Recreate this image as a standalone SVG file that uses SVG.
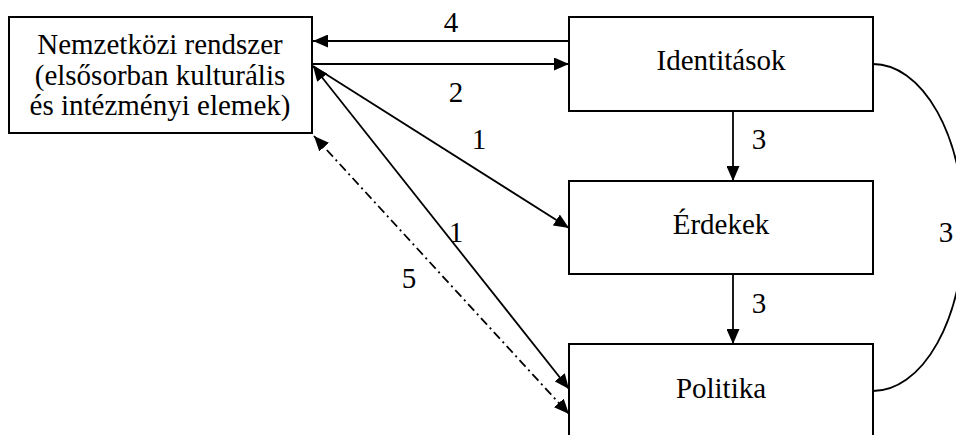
<svg xmlns="http://www.w3.org/2000/svg" width="956" height="435" viewBox="0 0 956 435">
<defs>
<style>
.box{fill:#fff;stroke:#000;stroke-width:2}
.t{font-family:'Liberation Serif','Times New Roman','DejaVu Serif',serif;font-size:29px;fill:#000;text-anchor:middle}
.ln{fill:none;stroke:#000;stroke-width:1.8}
.dd{stroke-dasharray:9,4,2,4}
</style>
<marker id="ah" markerUnits="userSpaceOnUse" markerWidth="15" markerHeight="13" refX="15" refY="6.5" orient="auto-start-reverse" viewBox="0 0 15 13">
<path d="M0,0 L15,6.5 L0,13 z" fill="#000"/>
</marker>
</defs>
<rect width="956" height="435" fill="#fff"/>
<g id="connectors">
<line class="ln" x1="569" y1="41" x2="313" y2="41" marker-end="url(#ah)"/>
<line class="ln" x1="313" y1="64" x2="569" y2="64" marker-end="url(#ah)"/>
<line class="ln" x1="313" y1="66" x2="569" y2="228" marker-end="url(#ah)"/>
<line class="ln" x1="313" y1="66" x2="569" y2="389" marker-start="url(#ah)" marker-end="url(#ah)"/>
<line class="ln dd" x1="314" y1="136" x2="569" y2="414" marker-start="url(#ah)" marker-end="url(#ah)"/>
<line class="ln" x1="733" y1="111" x2="733" y2="181" marker-end="url(#ah)"/>
<line class="ln" x1="733" y1="274" x2="733" y2="344" marker-end="url(#ah)"/>
<path class="ln" d="M873,64 A91,163.5 0 0 1 873,391"/>
<text class="t" font-family="Liberation Serif, serif" x="451" y="32">4</text>
<text class="t" font-family="Liberation Serif, serif" x="456" y="102">2</text>
<text class="t" font-family="Liberation Serif, serif" x="479" y="149">1</text>
<text class="t" font-family="Liberation Serif, serif" x="456" y="242">1</text>
<text class="t" font-family="Liberation Serif, serif" x="409" y="288">5</text>
<text class="t" font-family="Liberation Serif, serif" x="759" y="149">3</text>
<text class="t" font-family="Liberation Serif, serif" x="759" y="313">3</text>
<text class="t" font-family="Liberation Serif, serif" x="946" y="242">3</text>
</g>
<g id="nemzetkozi" font-family="Liberation Serif, serif">
<rect class="box" x="9" y="17" width="303" height="116"/>
<text class="t" x="160" y="54">Nemzetközi rendszer</text>
<text class="t" x="160" y="85">(elsősorban kulturális</text>
<text class="t" x="160" y="115">és intézményi elemek)</text>
</g>
<g id="identitasok">
<rect class="box" x="569" y="17" width="304" height="94"/>
<text class="t" x="721" y="70">Identitások</text>
</g>
<g id="erdekek">
<rect class="box" x="569" y="181" width="304" height="93"/>
<text class="t" x="721" y="234">Érdekek</text>
</g>
<g id="politika">
<rect class="box" x="569" y="344" width="304" height="100"/>
<text class="t" x="721" y="398">Politika</text>
</g>
</svg>
